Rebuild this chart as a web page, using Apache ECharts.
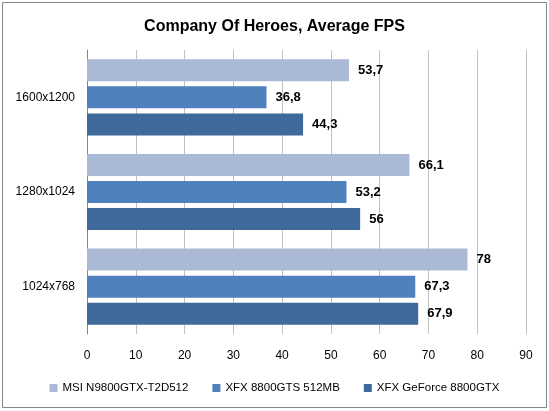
<!DOCTYPE html>
<html>
<head>
<meta charset="utf-8">
<script src="https://cdn.jsdelivr.net/npm/echarts@6/dist/echarts.min.js"></script>
<style>
html,body{margin:0;padding:0;background:#fff;}
#chart{width:549px;height:411px;}
</style>
</head>
<body>
<div id="chart"></div>
<script>
var categories = ['1600x1200', '1280x1024', '1024x768'];
var seriesNames = ['MSI N9800GTX-T2D512', 'XFX 8800GTS 512MB', 'XFX GeForce 8800GTX'];
var msiValues = [53.7, 66.1, 78];
var gtsValues = [36.8, 53.2, 67.3];
var gtxValues = [44.3, 56, 67.9];
var xTicks = [0, 10, 20, 30, 40, 50, 60, 70, 80, 90];
var colors = ['#AAB9D6', '#4F81BD', '#3F6A9B'];

var font = 'Liberation Sans, Arial, sans-serif';
var chart = echarts.init(document.getElementById('chart'), null, {renderer: 'canvas'});

function mk(name, data, color) {
  return {
    name: name,
    type: 'bar',
    data: data,
    barWidth: 22,
    barGap: '23%',
    itemStyle: {color: color},
    label: {
      show: true,
      position: 'right',
      distance: 9,
      color: '#000',
      fontWeight: 'bold',
      fontSize: 13,
      fontFamily: font,
      formatter: function (p) { return String(p.value).replace('.', ','); }
    }
  };
}

chart.setOption({
  animation: false,
  backgroundColor: '#fff',
  title: {
    text: 'Company Of Heroes, Average FPS',
    left: 'center',
    top: 14,
    textStyle: {fontSize: 16, fontWeight: 'bold', color: '#000', fontFamily: font}
  },
  graphic: [{
    type: 'rect',
    shape: {x: 2.5, y: 2.5, width: 544, height: 405},
    style: {fill: null, stroke: '#868686', lineWidth: 1},
    silent: true
  }],
  legend: {
    bottom: 12,
    left: 'center',
    itemWidth: 8,
    itemHeight: 8,
    itemGap: 24,
    icon: 'rect',
    data: seriesNames,
    textStyle: {fontSize: 11.5, color: '#000', fontFamily: font}
  },
  grid: {left: 87, right: 23, top: 50, bottom: 77, containLabel: false},
  xAxis: {
    type: 'value',
    min: xTicks[0],
    max: xTicks[xTicks.length - 1],
    interval: 10,
    axisLine: {show: false},
    axisTick: {show: false},
    splitLine: {show: true, lineStyle: {color: '#C0C0C0', width: 1}},
    axisLabel: {color: '#000', fontSize: 12, margin: 16, fontFamily: font}
  },
  yAxis: {
    type: 'category',
    inverse: true,
    data: categories,
    axisLine: {show: true, lineStyle: {color: '#868686', width: 1}},
    axisTick: {show: false},
    splitLine: {show: false},
    axisLabel: {color: '#000', fontSize: 12, margin: 12, fontFamily: font}
  },
  series: [
    mk(seriesNames[0], msiValues, colors[0]),
    mk(seriesNames[1], gtsValues, colors[1]),
    mk(seriesNames[2], gtxValues, colors[2])
  ]
});
</script>
</body>
</html>
